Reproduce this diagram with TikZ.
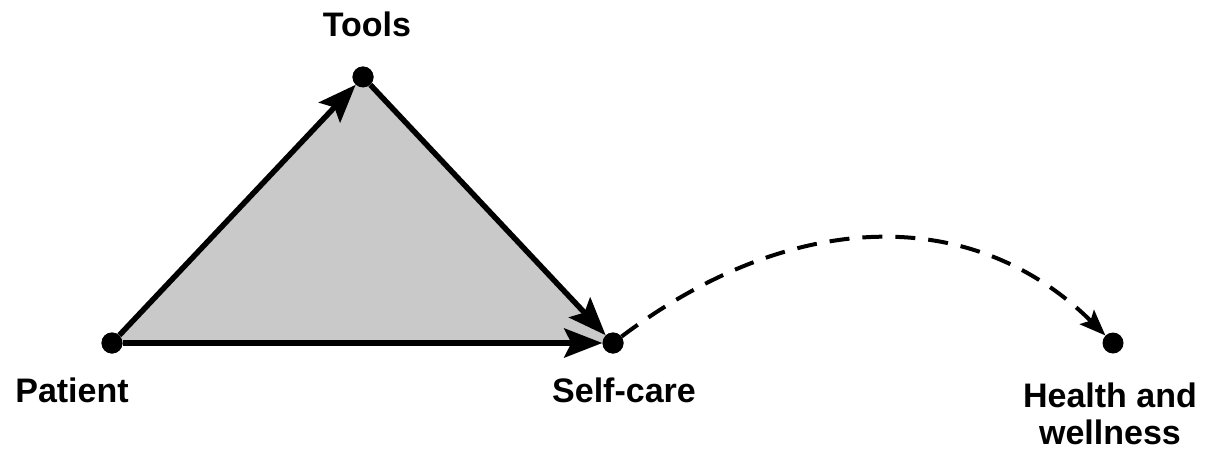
\documentclass[tikz,border=0pt]{standalone}
\usepackage{fontspec}
\setmainfont{Liberation Sans}
\usetikzlibrary{arrows.meta}
\begin{document}
\begin{tikzpicture}[x=1pt,y=1pt,
  dot/.style={circle,fill=black,minimum size=21pt,inner sep=0pt},
  lbl/.style={font=\bfseries\fontsize{34}{37}\selectfont,inner sep=0pt},
  solidarrow/.style={line width=5.5pt,-{Stealth[length=38pt,width=29pt,inset=7pt]}},
  dasharrow/.style={line width=4pt,dash pattern=on 20pt off 13pt,-{Stealth[length=26pt,width=20pt,inset=5pt]}}]
\useasboundingbox (0,0) rectangle (1212,451);
\node[dot] (p) at (112,108) {};
\node[dot] (t) at (363,374) {};
\node[dot] (s) at (613,108) {};
\node[dot] (h) at (1113,108) {};
\fill[gray!42] (p.center) -- (t.center) -- (s.center) -- cycle;
\node[dot] at (p) {};
\node[dot] at (t) {};
\node[dot] at (s) {};
\draw[solidarrow] (p) -- (t);
\draw[solidarrow] (t) -- (s);
\draw[solidarrow] (p) -- (s);
\draw[dasharrow] (s) .. controls (795,245) and (975,245) .. (h);
\node[lbl,anchor=base] (lp) at (72,49) {Patient};
\node[lbl,anchor=base] (ls) at (624,49) {Self-care};
\node[lbl,anchor=base] (lt) at (367,414) {Tools};
\node[lbl,anchor=north,align=center] (lh) at (1110,68) {Health and\\wellness};
\end{tikzpicture}
\end{document}
